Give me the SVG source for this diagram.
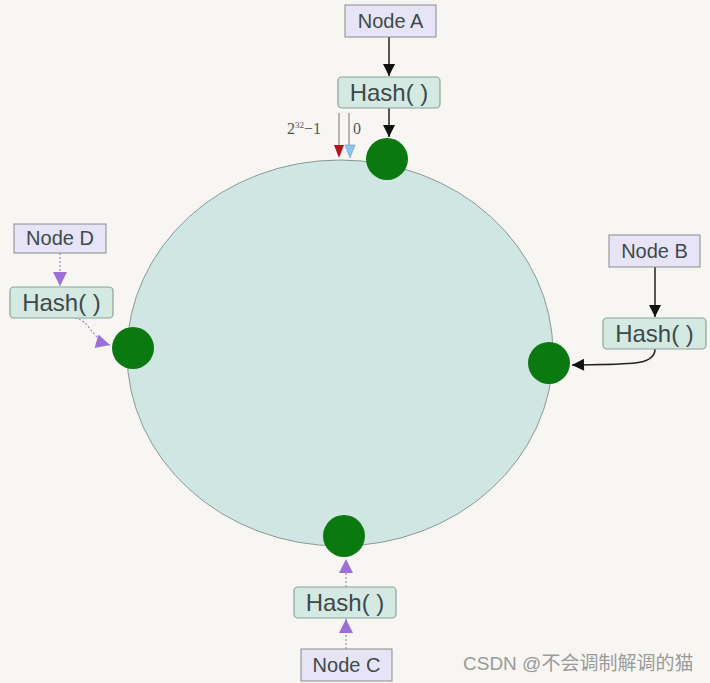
<svg xmlns="http://www.w3.org/2000/svg" width="710" height="683" viewBox="0 0 710 683">
<style>
.node rect.n{fill:#e6e4f6;stroke:#8a8a8a;stroke-width:1}
.node rect.h{fill:#d3e9e2;stroke:#8aa39c;stroke-width:1.2}
.t{font-family:"Liberation Sans",Arial,sans-serif;fill:#3e4a4a}
.tn{font-size:20px}
.th{font-size:24px}
.dot{fill:#0a7a10}
.blk{stroke:#222;stroke-width:1.5;fill:none}
.pur{stroke:#9a88b8;stroke-width:1.2;fill:none;stroke-dasharray:2 2}
</style>
<defs>
<marker id="ab" viewBox="0 0 10 10" refX="10" refY="5" markerWidth="13" markerHeight="12" markerUnits="userSpaceOnUse" orient="auto"><path d="M0,0 L10,5 L0,10 z" fill="#111"/></marker>
<marker id="ap" viewBox="0 0 10 10" refX="10" refY="5" markerWidth="16" markerHeight="14" markerUnits="userSpaceOnUse" orient="auto"><path d="M0,0 L10,5 L0,10 z" fill="#9b6fd6"/></marker>
</defs>
<rect width="710" height="683" fill="#f7f6f2"/>
<ellipse id="ring" cx="340" cy="353" rx="213" ry="193" fill="#cfe6e2" stroke="#8a9a96" stroke-width="1"/>
<g id="connectors">
<line class="blk" x1="389" y1="37" x2="389" y2="76" marker-end="url(#ab)"/>
<line class="blk" x1="389" y1="108" x2="389" y2="137" marker-end="url(#ab)"/>
<line class="blk" x1="655" y1="267" x2="655" y2="317" marker-end="url(#ab)"/>
<path class="blk" d="M655,349 C655,366 630,364 572,365" marker-end="url(#ab)"/>
<line class="pur" x1="60" y1="253" x2="60" y2="286" marker-end="url(#ap)"/>
<path class="pur" d="M75,318 C90,320 92,340 110,345" marker-end="url(#ap)"/>
<line class="pur" x1="346" y1="649" x2="346" y2="619" marker-end="url(#ap)"/>
<line class="pur" x1="346" y1="587" x2="346" y2="559" marker-end="url(#ap)"/>
</g>
<g id="markers">
<line x1="339" y1="113" x2="339" y2="148" stroke="#777" stroke-width="1"/>
<line x1="349" y1="113" x2="349" y2="148" stroke="#777" stroke-width="1"/>
<path d="M334,145 L344,145 L339,158 z" fill="#b0141c"/>
<path d="M345,145 L355,145 L350,158 z" fill="#8cc6ee" stroke="#6a9ac0" stroke-width="0.6"/>
<text x="287" y="134" font-family="'Liberation Serif',serif" font-size="16" fill="#555">2<tspan font-size="9" dy="-6">32</tspan><tspan dy="6">−1</tspan></text>
<text x="353" y="134" font-family="'Liberation Serif',serif" font-size="16" fill="#555">0</text>
</g>
<g id="nodeA" class="node"><rect class="n" x="345" y="5" width="91" height="32"/><text class="t tn" x="390.5" y="28" text-anchor="middle">Node A</text></g>
<g id="hashA" class="node"><rect class="h" x="338" y="77" width="102" height="31" rx="4"/><text class="t th" x="389" y="101" text-anchor="middle">Hash( )</text></g>
<g id="nodeB" class="node"><rect class="n" x="609" y="235" width="91" height="32"/><text class="t tn" x="654.5" y="258" text-anchor="middle">Node B</text></g>
<g id="hashB" class="node"><rect class="h" x="603" y="318" width="103" height="31" rx="4"/><text class="t th" x="654.5" y="342" text-anchor="middle">Hash( )</text></g>
<g id="nodeC" class="node"><rect class="n" x="301" y="649" width="91" height="32"/><text class="t tn" x="346.5" y="672" text-anchor="middle">Node C</text></g>
<g id="hashC" class="node"><rect class="h" x="294" y="587" width="102" height="31" rx="4"/><text class="t th" x="345" y="611" text-anchor="middle">Hash( )</text></g>
<g id="nodeD" class="node"><rect class="n" x="14" y="224" width="92" height="29"/><text class="t tn" x="60" y="245" text-anchor="middle">Node D</text></g>
<g id="hashD" class="node"><rect class="h" x="10" y="287" width="103" height="31" rx="4"/><text class="t th" x="61.5" y="311" text-anchor="middle">Hash( )</text></g>
<g id="dotA"><circle class="dot" cx="387" cy="159" r="21"/></g>
<g id="dotB"><circle class="dot" cx="549" cy="363" r="21"/></g>
<g id="dotC"><circle class="dot" cx="344" cy="536" r="21"/></g>
<g id="dotD"><circle class="dot" cx="133" cy="348" r="21"/></g>
<text x="463" y="670" font-family="'Liberation Sans','Noto Sans CJK SC',sans-serif" font-size="19" fill="#9a9a9a">CSDN @不会调制解调的猫</text>
</svg>
